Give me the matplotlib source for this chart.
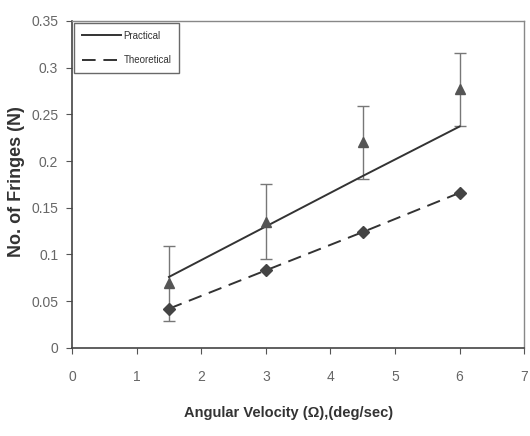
import numpy as np
import matplotlib.pyplot as plt
from matplotlib.lines import Line2D

# angular velocity (deg/sec)
omega = [1.5, 3.0, 4.5, 6.0]
# measured fringe counts with spread
practical = [0.069, 0.135, 0.220, 0.277]
practical_err = [0.040, 0.040, 0.039, 0.039]
# straight trend line through practical data
practical_trend = [0.076, 0.130, 0.184, 0.237]
# theoretical fringe counts
theoretical = [0.042, 0.083, 0.124, 0.166]

xticks = [0, 1, 2, 3, 4, 5, 6, 7]
yticks = [0, 0.05, 0.1, 0.15, 0.2, 0.25, 0.3, 0.35]
ytick_labels = ['0', '0.05', '0.1', '0.15', '0.2', '0.25', '0.3', '0.35']

font = 'Liberation Sans'
dash = (0, (7, 4))

fig = plt.figure(figsize=(5.3, 4.36), dpi=100)
ax = fig.add_axes([0.136, 0.202, 0.853, 0.750])

ax.errorbar(omega, practical, yerr=practical_err, fmt='none', ecolor='#777777',
            elinewidth=1.0, capsize=4, capthick=1.0, zorder=2)
ax.plot(omega, practical, linestyle='none', marker='^', markersize=7,
        color='#555555', zorder=4)
ax.plot(omega, practical_trend, color='#333333', linewidth=1.4, zorder=3)
ax.plot(omega, theoretical, color='#333333', linewidth=1.4, linestyle=dash,
        marker='D', markersize=6, markerfacecolor='#444444', markeredgecolor='#444444',
        zorder=3)

ax.set_xlim(0, 7)
ax.set_ylim(0, 0.35)
ax.set_xticks(xticks)
ax.set_xticklabels([str(v) for v in xticks])
ax.set_yticks(yticks)
ax.set_yticklabels(ytick_labels)
ax.tick_params(direction='out', length=4, colors='#555555', labelcolor='#666666',
               labelsize=10, pad=6)
ax.tick_params(axis='x', pad=12)
for lab in ax.get_xticklabels() + ax.get_yticklabels():
    lab.set_family(font)

for side in ['left', 'bottom']:
    ax.spines[side].set_color('#444444')
    ax.spines[side].set_linewidth(1.2)
for side in ['top', 'right']:
    ax.spines[side].set_color('#888888')
    ax.spines[side].set_linewidth(1.0)

fig.text(0.032, 0.583, 'No. of Fringes (N)', family=font, fontweight='bold',
         fontsize=13, color='#333333', rotation=90, ha='center', va='center')
fig.text(0.545, 0.052, 'Angular Velocity (\u03a9),(deg/sec)', family=font,
         fontweight='bold', fontsize=10.5, color='#333333', ha='center', va='center')

handles = [Line2D([], [], color='#333333', linewidth=1.4),
           Line2D([], [], color='#333333', linewidth=1.4, linestyle=dash)]
leg = ax.legend(handles, ['Practical', 'Theoretical'], loc='upper left',
                prop={'family': font, 'size': 7}, frameon=True, fancybox=False,
                edgecolor='#444444', handlelength=4.0, borderpad=0.8,
                labelspacing=1.5, handletextpad=0.3, borderaxespad=0.2)
leg.get_frame().set_linewidth(1.0)
for t in leg.get_texts():
    t.set_color('#333333')

fig.savefig('out.png', dpi=100)
